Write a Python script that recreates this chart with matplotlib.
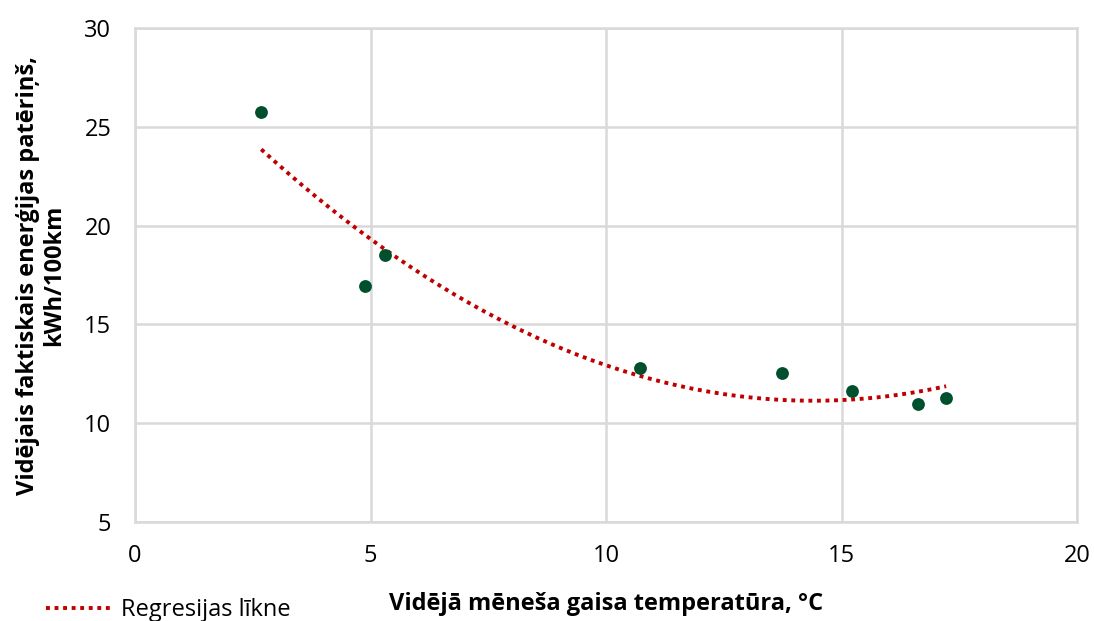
import numpy as np
import matplotlib
matplotlib.use("Agg")
import matplotlib.pyplot as plt
from matplotlib.lines import Line2D

plt.rcParams['font.family'] = ['Open Sans', 'DejaVu Sans']

temperature = [2.68, 4.88, 5.31, 10.72, 13.74, 15.22, 16.62, 17.22]
consumption = [25.75, 16.94, 18.51, 12.8, 12.54, 11.63, 10.97, 11.28]

x_ticks = [0, 5, 10, 15, 20]
y_ticks = [5, 10, 15, 20, 25, 30]

fig = plt.figure(figsize=(10.94, 6.21), dpi=100)
ax = fig.add_axes([0.1234, 0.1594, 0.8611, 0.7955])

grid_c = '#d9d9d9'
ax.scatter(temperature, consumption, s=85, color='#00502d', zorder=3, linewidths=0)

coef = np.polyfit(temperature, consumption, 2)
xs = np.linspace(min(temperature), max(temperature), 200)
ax.plot(xs, np.polyval(coef, xs), color='#c00000', lw=2.8, ls=(0, (1, 1.2)), zorder=2)

ax.set_xlim(0, 20)
ax.set_ylim(5, 30)
ax.set_xticks(x_ticks)
ax.set_yticks(y_ticks)
ax.grid(True, color=grid_c, lw=1.8)
ax.set_axisbelow(True)
for s in ax.spines.values():
    s.set_color(grid_c)
    s.set_linewidth(1.8)
ax.tick_params(axis='y', length=0, labelsize=17, colors='black', pad=17)
ax.tick_params(axis='x', length=0, labelsize=17, colors='black', pad=16)

ax.set_xlabel('Vidējā mēneša gaisa temperatūra, °C', fontsize=17, fontweight='bold', labelpad=17)
ax.set_ylabel('Vidējais faktiskais enerģijas patēriņš,\nkWh/100km', fontsize=17, fontweight='bold',
              labelpad=13, linespacing=1.15)

handle = Line2D([], [], color='#c00000', lw=2.8, ls=(0, (1, 1.2)))
fig.legend([handle], ['Regresijas līkne'], loc='lower left', bbox_to_anchor=(0.023, -0.036),
           frameon=False, fontsize=17, handlelength=2.7, handletextpad=0.45)

fig.savefig('out.png', dpi=100)
